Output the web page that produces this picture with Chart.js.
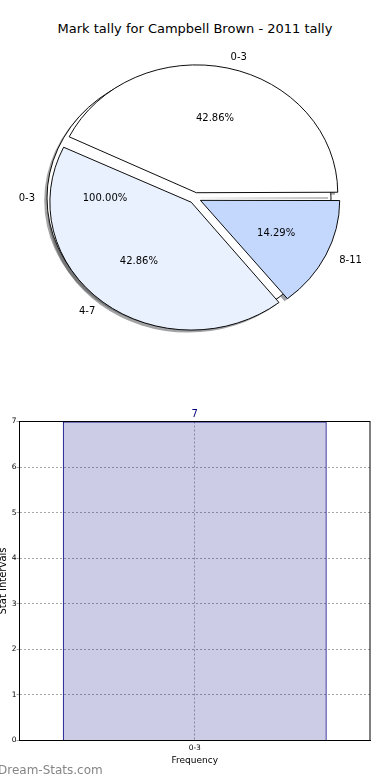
<!DOCTYPE html>
<html><head><meta charset="utf-8">
<script src="https://cdn.jsdelivr.net/npm/chart.js@4.4.0/dist/chart.umd.min.js"></script>
<style>
html,body{margin:0;padding:0;background:#fff;width:390px;height:780px;overflow:hidden;position:relative;font-family:'DejaVu Sans',sans-serif;}
canvas{position:absolute;}
#title{position:absolute;left:0;width:390px;top:21px;text-align:center;font-size:13px;line-height:15px;color:#000;white-space:nowrap;}
#wm{position:absolute;left:-2px;top:763px;font-size:12px;line-height:14px;color:#858585;font-weight:normal;white-space:nowrap;}
</style></head><body>
<div id="title"></div>
<canvas id="pieFull" width="390" height="396" style="left:0;top:0"></canvas>
<canvas id="pieMain" width="390" height="396" style="left:0;top:0"></canvas>
<canvas id="bar" width="394" height="380" style="left:-4px;top:400px"></canvas>
<div id="wm"></div>
<script>
const chartTitle = 'Mark tally for Campbell Brown - 2011 tally';
const pieLabels = ['0-3', '4-7', '8-11'];
const pieValues = [3, 3, 1];
const pieColors = ['#ffffff', '#eaf1fe', '#c4d8fe'];
const fullPieLabels = ['0-3'];
const fullPieValues = [7];
const fullPieColors = ['#ffffff'];
const barCategories = ['0-3'];
const barValues = [7];
const yTickValues = [0, 1, 2, 3, 4, 5, 6, 7];
const xAxisTitle = 'Frequency';
const yAxisTitle = 'Stat Intervals';
const watermark = 'Dream-Stats.com';

document.getElementById('title').textContent = chartTitle;
document.getElementById('wm').textContent = watermark;

const SY = 0.904;     // vertical squash of the pie (non-equal axes)
const PIE_R = 140;    // nominal radius for label placement
const FONT = "'DejaVu Sans', sans-serif";

function shadowOf(hex) {
  const n = parseInt(hex.slice(1), 16);
  const r = (n >> 16) & 255, g = (n >> 8) & 255, b = n & 255;
  return `rgba(${Math.round(r * 0.3)},${Math.round(g * 0.3)},${Math.round(b * 0.3)},0.5)`;
}
function squash(ctx, chart) {
  const a = chart.chartArea;
  const cx = (a.left + a.right) / 2, cy = (a.top + a.bottom) / 2;
  ctx.translate(cx, cy); ctx.scale(1, SY); ctx.translate(-cx, -cy);
}
function drawArcShadows(chart) {
  const ctx = chart.ctx;
  chart.getDatasetMeta(0).data.forEach(arc => {
    const o = arc.options;
    const s = shadowOf(o.backgroundColor);
    arc.options = Object.assign({}, o, {backgroundColor: s, borderColor: s, borderWidth: 0});
    ctx.save(); ctx.translate(-2.8, 2.8); arc.draw(ctx); ctx.restore();
    arc.options = o;
  });
}
function arcGeom(arc) {
  const p = arc.getProps(['x', 'y', 'startAngle', 'endAngle', 'outerRadius'], true);
  const mid = (p.startAngle + p.endAngle) / 2;
  const off = (arc.options.offset || 0) / 4;
  return {mid, ex: p.x + Math.cos(mid) * off, ey: p.y + Math.sin(mid) * off, cy: p.y, r: p.outerRadius, off};
}
function drawPieLabels(src, ctx) {
  const vals = src.data.datasets[0].data;
  const total = vals.reduce((a, b) => a + b, 0);
  ctx.save();
  ctx.font = '10px ' + FONT; ctx.fillStyle = '#000'; ctx.textBaseline = 'middle';
  src.getDatasetMeta(0).data.forEach((arc, i) => {
    const g = arcGeom(arc);
    const c = Math.cos(g.mid), s = Math.sin(g.mid);
    const toY = y => g.cy + (y - g.cy) * SY;
    ctx.textAlign = c > 0 ? 'left' : 'right';
    ctx.fillText(src.data.labels[i], g.ex + c * PIE_R * 1.1, toY(g.ey + s * PIE_R * 1.1));
    ctx.textAlign = 'center';
    ctx.fillText((vals[i] / total * 100).toFixed(2) + '%', g.ex + c * PIE_R * 0.6, toY(g.ey + s * PIE_R * 0.6));
  });
  ctx.restore();
}
const pieBase = {
  responsive: false, animation: false, events: [],
  rotation: 90, layout: {padding: 0},
  plugins: {legend: {display: false}, tooltip: {enabled: false}}
};

const fullChart = new Chart(document.getElementById('pieFull'), {
  type: 'pie',
  data: {labels: fullPieLabels, datasets: [{data: fullPieValues, backgroundColor: fullPieColors,
    borderWidth: 0, offset: 24, hoverOffset: 0, clip: false}]},
  options: Object.assign({}, pieBase, {radius: 136}),
  plugins: [{
    id: 'fullDeco',
    beforeDatasetsDraw(chart) { const ctx = chart.ctx; ctx.save(); squash(ctx, chart); drawArcShadows(chart); },
    afterDatasetsDraw(chart) {
      const ctx = chart.ctx;
      chart.getDatasetMeta(0).data.forEach(arc => {
        const g = arcGeom(arc);
        ctx.beginPath(); ctx.arc(g.ex, g.ey, g.r + g.off, 0, Math.PI * 2);
        ctx.lineWidth = 1; ctx.strokeStyle = '#000'; ctx.stroke();
      });
      ctx.restore();
    }
  }]
});

const mainChart = new Chart(document.getElementById('pieMain'), {
  type: 'pie',
  data: {labels: [...pieLabels].reverse(), datasets: [{data: [...pieValues].reverse(),
    backgroundColor: [...pieColors].reverse(), borderColor: '#000', borderWidth: 1,
    offset: 24, hoverOffset: 0, clip: false}]},
  options: Object.assign({}, pieBase, {radius: 138}),
  plugins: [{
    id: 'mainDeco',
    beforeDatasetsDraw(chart) {
      const ctx = chart.ctx; ctx.save(); squash(ctx, chart);
      const fg = arcGeom(fullChart.getDatasetMeta(0).data[0]);
      ctx.save();
      ctx.beginPath(); ctx.rect(-2000, -2000, 5000, 5000);
      ctx.arc(fg.ex, fg.ey, fg.r + fg.off, 0, Math.PI * 2);
      ctx.clip('evenodd');
      drawArcShadows(chart);
      ctx.restore();
    },
    afterDatasetsDraw(chart) { chart.ctx.restore(); },
    afterDraw(chart) { drawPieLabels(fullChart, chart.ctx); drawPieLabels(chart, chart.ctx); }
  }]
});

const framePlugin = {
  id: 'frame',
  afterDraw(chart) {
    const {ctx, chartArea: a} = chart;
    ctx.save(); ctx.strokeStyle = '#000'; ctx.lineWidth = 1;
    ctx.strokeRect(a.left, a.top, a.right - a.left, a.bottom - a.top);
    ctx.restore();
  }
};
const valuePlugin = {
  id: 'values',
  afterDraw(chart) {
    const ctx = chart.ctx;
    ctx.save(); ctx.font = '10px ' + FONT; ctx.fillStyle = '#000080';
    ctx.textAlign = 'center'; ctx.textBaseline = 'alphabetic';
    chart.getDatasetMeta(0).data.forEach((bar, i) => {
      ctx.fillText(String(chart.data.datasets[0].data[i]), bar.x, bar.y - 5);
    });
    ctx.restore();
  }
};

new Chart(document.getElementById('bar'), {
  type: 'bar',
  data: {labels: barCategories, datasets: [{data: barValues, backgroundColor: 'rgba(0,0,128,0.2)',
    borderColor: '#000080', borderWidth: 1, borderSkipped: 'bottom',
    barPercentage: 0.753, categoryPercentage: 1}]},
  options: {
    responsive: false, animation: false, events: [],
    layout: {padding: {top: 21.5, right: 20, bottom: 14, left: 0}},
    plugins: {legend: {display: false}, tooltip: {enabled: false}},
    scales: {
      x: {
        offset: true,
        grid: {offset: false, color: '#a8a8a8', lineWidth: 1, drawTicks: false},
        border: {display: true, color: '#000', width: 1, dash: [2, 2]},
        ticks: {font: {family: FONT, size: 7.5}, color: '#000', padding: 3, maxRotation: 0},
        title: {display: true, text: xAxisTitle, font: {family: FONT, size: 9}, color: '#000', padding: {top: 0, bottom: 0}},
        afterFit(s) { s.height = 25.5; }
      },
      y: {
        min: 0, max: 7,
        grid: {color: '#a8a8a8', lineWidth: 1, drawTicks: true, tickLength: 3},
        border: {display: true, color: '#000', width: 1, dash: [2, 2]},
        ticks: {font: {family: FONT, size: 7.5}, color: '#000', padding: 0, stepSize: 1},
        afterBuildTicks(s) { s.ticks = yTickValues.map(v => ({value: v})); },
        title: {display: true, text: yAxisTitle, font: {family: FONT, size: 10}, color: '#000', padding: {top: 1, bottom: 0}},
        afterFit(s) { s.width = 23.5; }
      }
    }
  },
  plugins: [framePlugin, valuePlugin]
});
</script>
</body></html>
